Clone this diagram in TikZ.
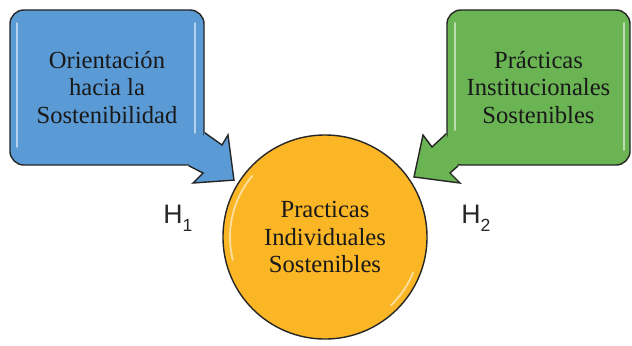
\documentclass[tikz,border=0pt]{standalone}
\usepackage{fontspec}
\setmainfont{Liberation Serif}
\newfontfamily\hypfont{Liberation Sans}
\usetikzlibrary{positioning,calc}

\definecolor{boxblue}{RGB}{91,155,213}
\definecolor{boxgreen}{RGB}{106,180,84}
\definecolor{circorange}{RGB}{251,182,38}
\definecolor{edgegray}{RGB}{38,38,38}

\newcommand{\hsub}[1]{H\raisebox{-5.7pt}{\fontsize{12.5}{12.5}\selectfont #1}}

\tikzset{
	callout/.style={draw=edgegray, line width=1pt, rounded corners=0.35cm, minimum height=3.875cm, align=center, text=black!90, font=\fontsize{17.5}{19.5}\selectfont},
	target/.style={circle, draw=edgegray, line width=1pt, fill=circorange, minimum size=5.1cm, align=center, text=black!90, font=\fontsize{17.5}{19.5}\selectfont},
	arrowbody/.style={draw=edgegray, line width=1pt, line join=miter},
	gloss/.style={white, line width=1.3pt, opacity=.55, line cap=round},
	hyp/.style={font=\hypfont\fontsize{19}{19}\selectfont, text=black!85, inner sep=0pt, anchor=base west}
}

\begin{document}
\begin{tikzpicture}[x=0.025cm, y=-0.025cm]
	\useasboundingbox (0,0) rectangle (632,345);

	\node[target] (pis) at (325,237) {Practicas\\Individuales\\Sostenibles};
	\node[callout, fill=boxblue, minimum width=4.85cm] (orient) at (107,87.5) {Orientación\\hacia la\\Sostenibilidad};
	\node[callout, fill=boxgreen, minimum width=4.575cm] (inst) at (538.5,87.5) {Prácticas\\Institucionales\\Sostenibles};

	% arrow tips just outside the circle
	\coordinate (tipA) at ($(pis.center)!1.045!(pis.148)$);
	\coordinate (tipB) at ($(pis.center)!1.045!(pis.34)$);

	% callout arrows, drawn over the box corners
	\draw[arrowbody, fill=boxblue] ($(orient.south east)+(0,-33)$) -- (222,145) -- (228,135) -- (tipA) -- (193,183) -- (203,173) -- ($(orient.south east)+(-16,0)$);
	\draw[arrowbody, fill=boxgreen] ($(inst.south west)+(0,-32)$) -- (432,147) -- (423,135) -- (tipB) -- (460,183) -- (450,173) -- ($(inst.south west)+(12,0)$);

	% glossy highlights
	\foreach \x/\a/\b in {17/23/147, 195/23/133, 455/23/130, 624/23/150}{
		\draw[gloss] (\x,\a) -- (\x,\b);
	}
	\draw[gloss] ($(pis.center)+(166:95)$) arc (166:220:95);
	\draw[gloss] ($(pis.center)+(22:95)$) arc (22:46:95);

	\node[hyp] (h1) at (163,223) {\hsub{1}};
	\node[hyp] (h2) at (461,223) {\hsub{2}};
\end{tikzpicture}
\end{document}
